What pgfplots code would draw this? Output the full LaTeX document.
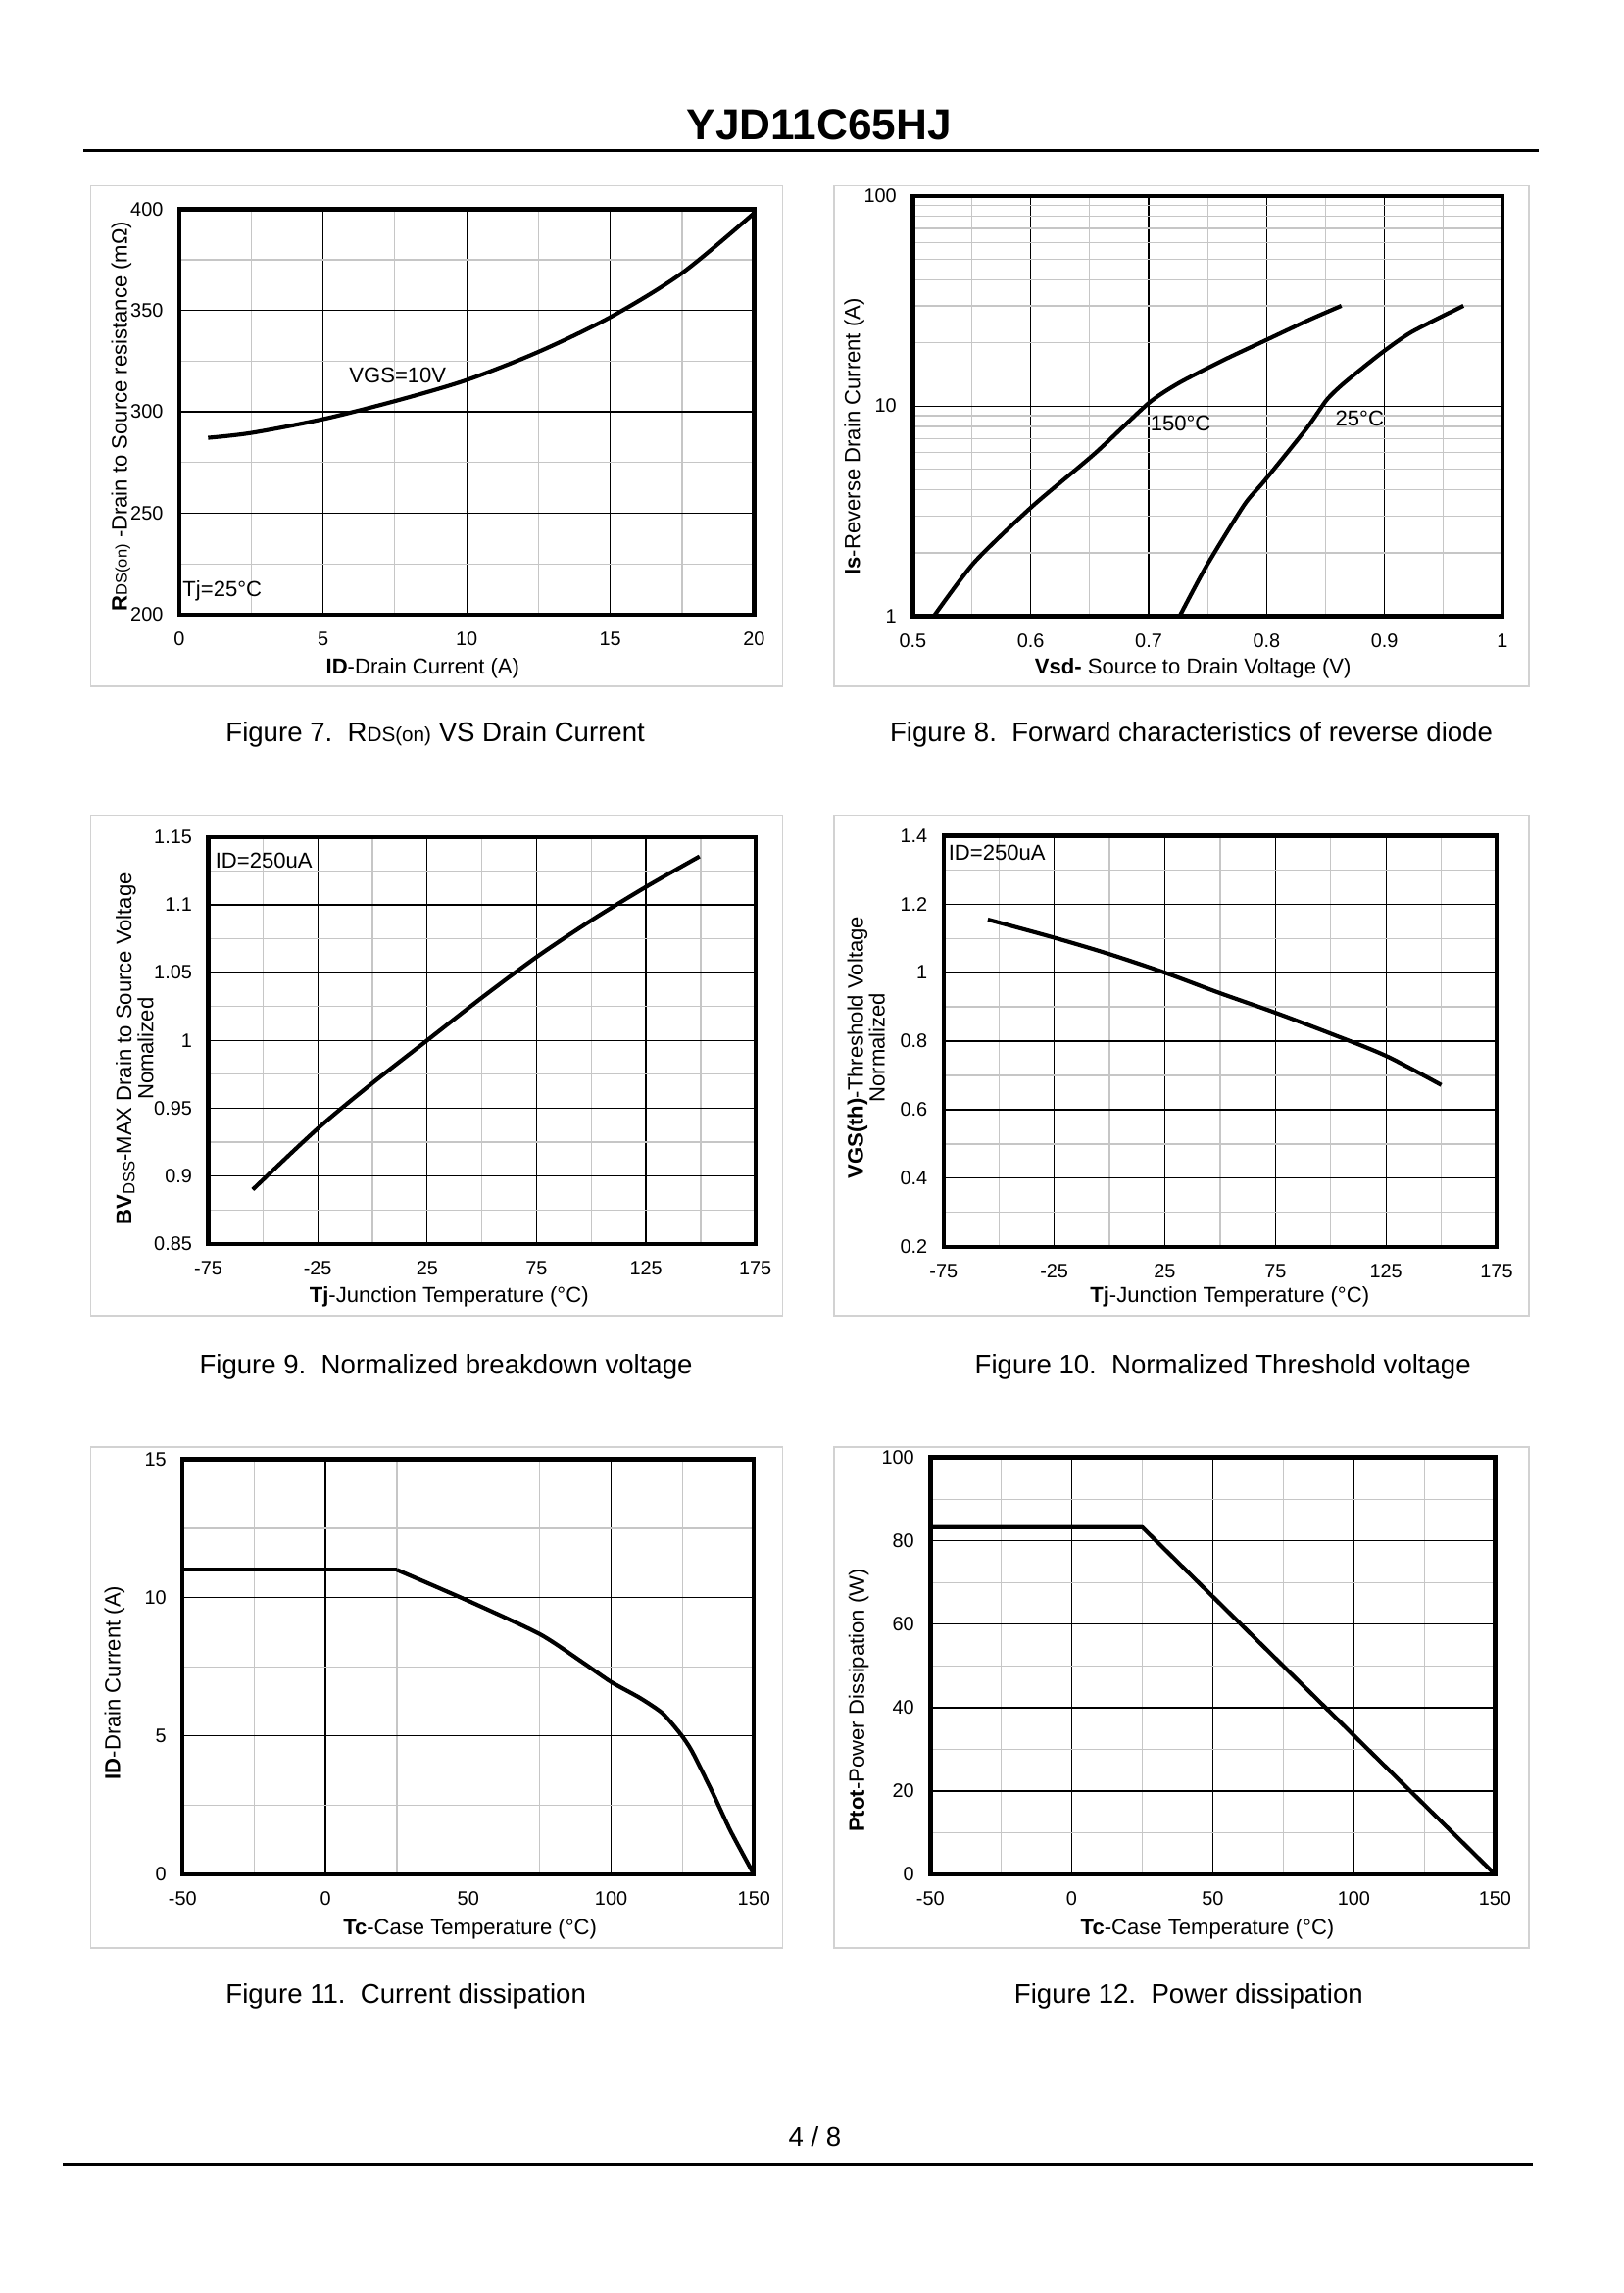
\documentclass[border=0pt]{standalone}
\usepackage{pgfplots}
\pgfplotsset{compat=1.18}
\usepackage{fontspec}
\setmainfont{Liberation Sans}

\newcommand{\capfont}{\fontsize{10}{12}\selectfont}
\newcommand{\labfont}{\fontsize{8}{9}\selectfont}
\newcommand{\U}{0.541pt}

\pgfplotsset{
  ds/.style={
    scale only axis, anchor=south west,
    axis line style={line width=1.6pt},
    grid=both,
    major grid style={black, line width=0.45pt},
    minor grid style={gray!45, line width=0.45pt},
    major tick length=0pt, minor tick length=0pt,
    tick label style={font=\fontsize{7.2}{9}\selectfont},
    xticklabel style={yshift=-3pt},
    yticklabel style={xshift=-2.5pt},
    /pgf/number format/assume math mode=true,
  },
  curve/.style={black, line width=1.5pt, line join=round, no marks},
}

\begin{document}
\begin{tikzpicture}
\begin{scope}[x=\U,y=\U]
\fill[white] (0,0) rectangle (1109.5,1567);

% page header and footer
\node[font=\bfseries\fontsize{16}{18}\selectfont] at (560,1482) {YJD11C65HJ};
\draw[line width=1.1pt] (57,1464) -- (1052,1464);
\node[font=\capfont] at (557,107) {4 / 8};
\draw[line width=1.1pt] (43,88) -- (1048,88);

% light frames
\begin{scope}[gray!35, line width=0.6pt]
\draw (62,1098) rectangle (535,1440);
\draw (570,1098) rectangle (1045,1440);
\draw (62,668) rectangle (535,1010);
\draw (570,668) rectangle (1045,1010);
\draw (62,236) rectangle (535,578);
\draw (570,236) rectangle (1045,578);
\end{scope}

% axis labels and captions
\node[font=\labfont] at (289,1110) {{\bfseries ID}-Drain Current  (A)};
\node[font=\labfont, rotate=90] at (83,1282.5) {{\bfseries R}{\fontsize{6}{7}\selectfont DS(on)} -Drain to Source resistance  (mΩ)};
\node[font=\capfont, anchor=west, inner sep=0pt] at (154,1065) {Figure 7.\ \ R{\fontsize{7.5}{9}\selectfont DS(on)} VS Drain Current};

\node[font=\labfont] at (815.5,1110) {{\bfseries Vsd-} Source to Drain Voltage (V)};
\node[font=\labfont, rotate=90] at (584,1268.6) {{\bfseries Is}-Reverse  Drain Current  (A)};
\node[font=\capfont, anchor=west, inner sep=0pt] at (608,1065) {Figure 8.\ \ Forward characteristics of reverse diode};

\node[font=\labfont] at (307,681) {{\bfseries Tj}-Junction  Temperature  (°C)};
\node[font=\labfont, rotate=90, align=center] at (92,850.3) {{\bfseries BV}\raisebox{-1.2pt}{\fontsize{6}{7}\selectfont DSS}-MAX  Drain to Source Voltage\\[-1pt]Nomalized};
\node[font=\capfont, anchor=west, inner sep=0pt] at (136,633) {Figure 9.\ \ Normalized breakdown voltage};

\node[font=\labfont] at (840.6,681) {{\bfseries Tj}-Junction  Temperature  (°C)};
\node[font=\labfont, rotate=90, align=center] at (592,851) {{\bfseries VGS(th)}-Threshold  Voltage\\[-1pt]Normalized};
\node[font=\capfont, anchor=west, inner sep=0pt] at (666,633) {Figure 10.\ \ Normalized Threshold voltage};

\node[font=\labfont] at (321.3,249) {{\bfseries Tc}-Case Temperature  (°C)};
\node[font=\labfont, rotate=90] at (78.4,417) {{\bfseries ID}-Drain Current  (A)};
\node[font=\capfont, anchor=west, inner sep=0pt] at (154,203) {Figure 11.\ \ Current dissipation};

\node[font=\labfont] at (825.4,249) {{\bfseries Tc}-Case Temperature  (°C)};
\node[font=\labfont, rotate=90] at (587,405) {{\bfseries Ptot}-Power Dissipation  (W)};
\node[font=\capfont, anchor=west, inner sep=0pt] at (693,203) {Figure 12.\ \ Power dissipation};
\end{scope}

% Figure 7
\begin{axis}[ds, at={({122.6*0.541pt},{1147*0.541pt})}, width=212.5pt, height=149.9pt,
  xmin=0, xmax=20, ymin=200, ymax=400,
  xtick={0,5,10,15,20}, ytick={200,250,300,350,400},
  minor x tick num=1, minor y tick num=1]
\addplot[curve, smooth] coordinates {(1,287.2) (2.5,289.6) (5,296.4) (7.5,305.3) (10,315.7) (12.5,329.6) (15,346.7) (17.5,368.5) (20,398)};
\node[font=\labfont] at (7.6,318) {VGS=10V};
\node[font=\labfont, anchor=west, inner sep=0pt] at (0.1,211.5) {Tj=25°C};
\end{axis}

% Figure 8
\begin{axis}[ds, at={({624*0.541pt},{1146*0.541pt})}, width=218pt, height=155.3pt,
  xmin=0.5, xmax=1, ymode=log, ymin=1, ymax=100,
  xtick={0.5,0.6,0.7,0.8,0.9,1}, minor x tick num=1,
  ytick={1,10,100}, yticklabels={1,10,100},
  minor ytick={2,3,4,5,6,7,8,9,20,30,40,50,60,70,80,90}]
\addplot[curve, smooth, tension=0.4] coordinates {(0.5178,1) (0.552,1.8) (0.601,3.32) (0.654,5.92) (0.6998,10.3) (0.726,12.9) (0.764,16.6) (0.798,20.4) (0.836,25.7) (0.8635,30)};
\addplot[curve, smooth, tension=0.4] coordinates {(0.7263,1) (0.749,1.73) (0.781,3.38) (0.798,4.39) (0.834,7.83) (0.851,10.7) (0.866,12.9) (0.897,17.8) (0.923,22.5) (0.967,30)};
\node[font=\labfont, anchor=west, inner sep=0pt] at (0.701,8.3) {150°C};
\node[font=\labfont, anchor=west, inner sep=0pt] at (0.858,8.7) {25°C};
\end{axis}

% Figure 9
\begin{axis}[ds, at={({142.4*0.541pt},{717*0.541pt})}, width=202.3pt, height=150.4pt,
  xmin=-75, xmax=175, ymin=0.85, ymax=1.15,
  xtick={-75,-25,25,75,125,175}, minor x tick num=1,
  ytick={0.85,0.9,0.95,1,1.05,1.1,1.15},
  yticklabels={0.85,0.9,0.95,1,1.05,1.1,1.15}, minor y tick num=1]
\addplot[curve, smooth] coordinates {(-54.7,0.890) (-25,0.935) (0,0.9685) (25,1.0) (50,1.0315) (75,1.0615) (100,1.0885) (125,1.1132) (149.5,1.1357)};
\node[font=\labfont, anchor=west, inner sep=0pt] at (-72,1.1325) {ID=250uA};
\end{axis}

% Figure 10
\begin{axis}[ds, at={({645*0.541pt},{715*0.541pt})}, width=204.5pt, height=152pt,
  xmin=-75, xmax=175, ymin=0.2, ymax=1.4,
  xtick={-75,-25,25,75,125,175}, minor x tick num=1,
  ytick={0.2,0.4,0.6,0.8,1,1.2,1.4},
  yticklabels={0.2,0.4,0.6,0.8,1,1.2,1.4}, minor y tick num=1]
\addplot[curve, smooth] coordinates {(-55,1.155) (-25,1.102) (0,1.054) (25,1.0) (50,0.940) (75,0.883) (100,0.822) (125,0.757) (150,0.672)};
\node[font=\labfont, anchor=west, inner sep=0pt] at (-73,1.349) {ID=250uA};
\end{axis}

% Figure 11
\begin{axis}[ds, at={({124.8*0.541pt},{286*0.541pt})}, width=211.3pt, height=153.6pt,
  xmin=-50, xmax=150, ymin=0, ymax=15,
  xtick={-50,0,50,100,150}, ytick={0,5,10,15},
  minor x tick num=1, minor y tick num=1]
\addplot[curve] coordinates {(-50,11) (25,11)};
\addplot[curve, smooth, tension=0.4] coordinates {(25,11) (50,9.88) (75,8.68) (90,7.66) (100,6.95) (110,6.38) (118,5.82) (124.3,5.07) (128.3,4.45) (135.4,2.98) (141.8,1.57) (150,0)};
\end{axis}

% Figure 12
\begin{axis}[ds, at={({636*0.541pt},{286*0.541pt})}, width=208.8pt, height=154.2pt,
  xmin=-50, xmax=150, ymin=0, ymax=100,
  xtick={-50,0,50,100,150}, ytick={0,20,40,60,80,100},
  minor x tick num=1, minor y tick num=1]
\addplot[curve] coordinates {(-50,83.3) (25,83.3) (150,0)};
\end{axis}
\end{tikzpicture}
\end{document}
